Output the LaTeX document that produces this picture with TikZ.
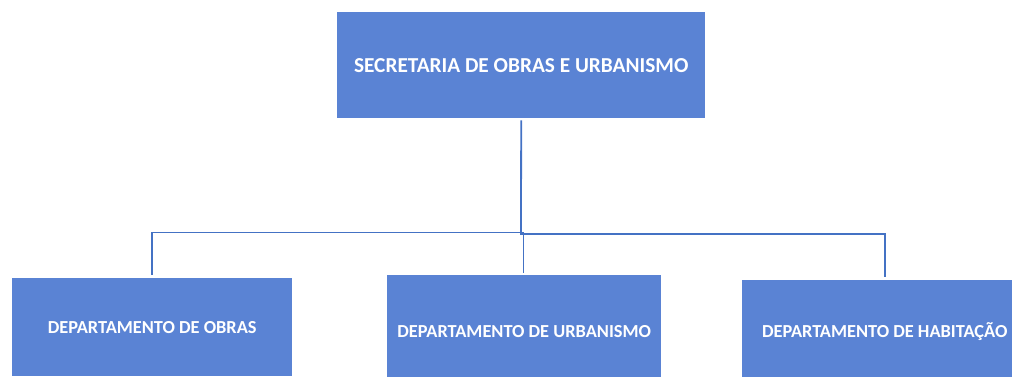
\documentclass[tikz,border=0pt]{standalone}
\usepackage{fontspec}
\setmainfont{Carlito}
\definecolor{boxfill}{RGB}{90,131,212}
\definecolor{linec}{RGB}{68,114,196}
\begin{document}
\begin{tikzpicture}[x=1pt,y=1pt,
  orgbox/.style={rectangle,fill=boxfill,draw=none,text=white,font=\bfseries,inner sep=0pt,anchor=north west},
  conn/.style={draw=linec,line width=1.8pt}]
\useasboundingbox (0,0) rectangle (1012,-377);
\node[orgbox,minimum width=368pt,minimum height=106pt,font=\bfseries\fontsize{21.3}{25}\selectfont] (top) at (337,-12) {SECRETARIA DE OBRAS E URBANISMO};
\node[orgbox,minimum width=280pt,minimum height=98pt,font=\bfseries\fontsize{18.35}{22}\selectfont] (left) at (12,-278) {DEPARTAMENTO DE OBRAS};
\node[orgbox,minimum width=274pt,minimum height=112pt,font=\bfseries\fontsize{18.35}{22}\selectfont] (mid) at (387,-275) {DEPARTAMENTO DE URBANISMO};
\node[orgbox,minimum width=285pt,minimum height=102pt,font=\bfseries\fontsize{18.35}{22}\selectfont] (right) at (742,-280) {DEPARTAMENTO DE HABITAÇÃO};
\coordinate (J1) at (521,-232.5);
\coordinate (J2) at (523.5,-234);
\draw[conn,shorten <=2pt] (top.south) -- (J1);
\draw[conn,shorten >=3pt] (J1) -| (left.north -| 151.7,0);
\draw[conn] (J1) rectangle (J2);
\draw[conn,shorten >=3pt] (J2) -| (right.north -| 885,0);
\draw[conn,shorten >=2pt] (J2) -- (mid.north -| J2);
\end{tikzpicture}
\end{document}
